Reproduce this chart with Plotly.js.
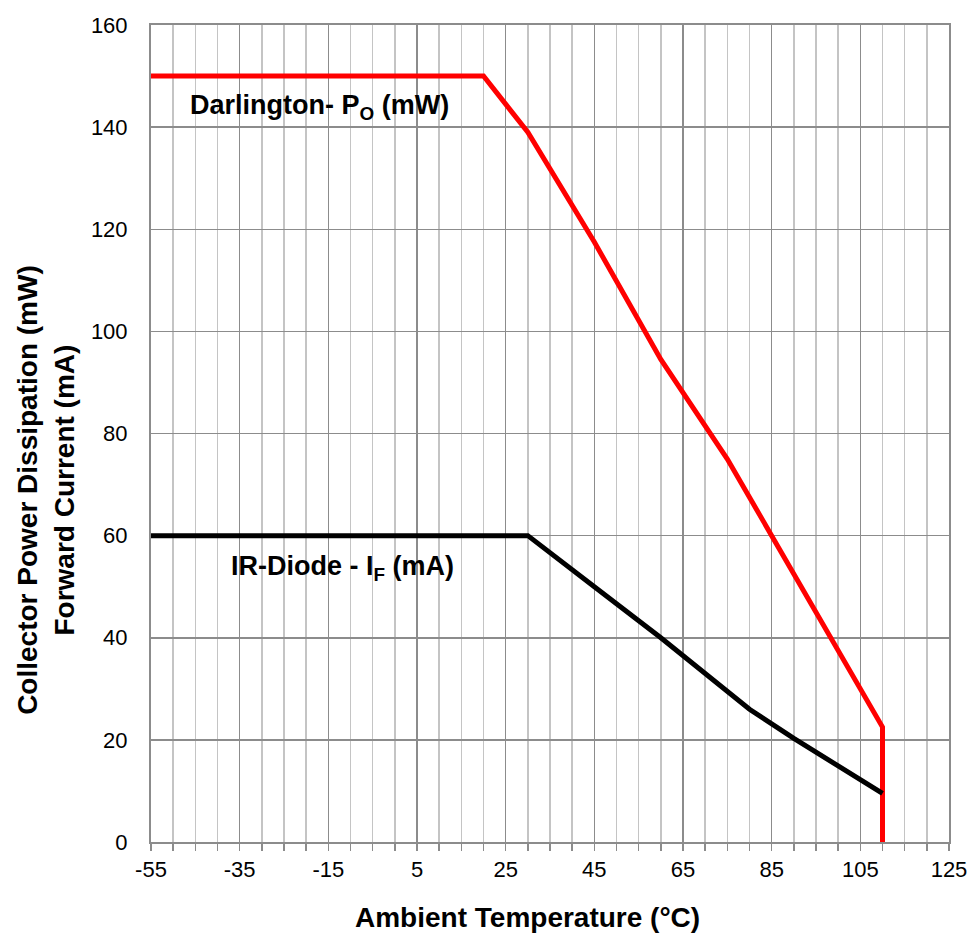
<!DOCTYPE html>
<html>
<head>
<meta charset="utf-8">
<script src="https://cdn.plot.ly/plotly-3.0.1.min.js"></script>
<style>html,body{margin:0;padding:0;background:#fff;}#chart{width:979px;height:947px;}</style>
</head>
<body>
<div id="chart"></div>
<script>
// Darlington collector power dissipation (mW)
const darlingtonTemp = [-55, 20, 30, 45, 60, 75, 85, 95, 110, 110];
const darlingtonPower = [150, 150, 139, 117.5, 94.5, 75, 60, 45, 22.5, 0];
// IR diode forward current (mA)
const diodeTemp = [-55, 30, 45, 60, 80, 90, 110];
const diodeCurrent = [60, 60, 50, 40, 26, 20.3, 9.5];

const xTickVals = [-55, -35, -15, 5, 25, 45, 65, 85, 105, 125];
const yTickVals = [0, 20, 40, 60, 80, 100, 120, 140, 160];

const font = 'Liberation Sans, Arial, sans-serif';

const traces = [
  {x: darlingtonTemp, y: darlingtonPower, mode: 'lines', line: {color: '#ff0000', width: 5}, showlegend: false, hoverinfo: 'skip'},
  {x: diodeTemp, y: diodeCurrent, mode: 'lines', line: {color: '#000000', width: 5}, showlegend: false, hoverinfo: 'skip'}
];

const layout = {
  width: 979, height: 947,
  margin: {l: 151, r: 30, t: 25, b: 105},
  paper_bgcolor: '#fff', plot_bgcolor: '#fff',
  font: {family: font, color: '#000'},
  xaxis: {
    range: [-55, 125], tickvals: xTickVals, ticktext: xTickVals.map(String),
    showgrid: true, gridcolor: '#8c8c8c', gridwidth: 1.5,
    ticks: 'outside', ticklen: 7, tickcolor: '#8c8c8c', tickwidth: 1.5,
    minor: {dtick: 5, tick0: -55, showgrid: true, gridcolor: '#c4c4c4', gridwidth: 1.5, ticks: 'outside', ticklen: 7, tickcolor: '#8c8c8c', tickwidth: 1.5},
    showline: true, mirror: true, linecolor: '#8c8c8c', linewidth: 2,
    zeroline: false, tickfont: {size: 22, family: font, color: '#000'}
  },
  yaxis: {
    range: [0, 160], tickvals: yTickVals,
    showgrid: true, gridcolor: '#8c8c8c', gridwidth: 1.5,
    ticks: '', ticklabelstandoff: 17,
    showline: true, mirror: true, linecolor: '#8c8c8c', linewidth: 2,
    zeroline: false, tickfont: {size: 22, family: font, color: '#000'}
  },
  annotations: [
    {xref: 'paper', yref: 'paper', x: 0.472, y: -0.093, xanchor: 'center', yanchor: 'middle',
     text: '<b>Ambient Temperature (°C)</b>', showarrow: false,
     font: {size: 28, family: font, color: '#000'}},
    {xref: 'paper', yref: 'paper', x: -0.1316, y: 0.431, xanchor: 'center', yanchor: 'middle', textangle: -90,
     text: '<b>Collector Power Dissipation (mW)<br>Forward Current (mA)</b>', showarrow: false,
     font: {size: 28, family: font, color: '#000'}},
    {x: -17, y: 144, text: '<b>Darlington- P<sub>O</sub> (mW)</b>', showarrow: false,
     font: {size: 27, family: font, color: '#000'}},
    {x: -11.8, y: 53.7, text: '<b>IR-Diode - I<sub>F</sub> (mA)</b>', showarrow: false,
     font: {size: 27, family: font, color: '#000'}}
  ]
};

Plotly.newPlot('chart', traces, layout, {staticPlot: true, displayModeBar: false});
</script>
</body>
</html>
